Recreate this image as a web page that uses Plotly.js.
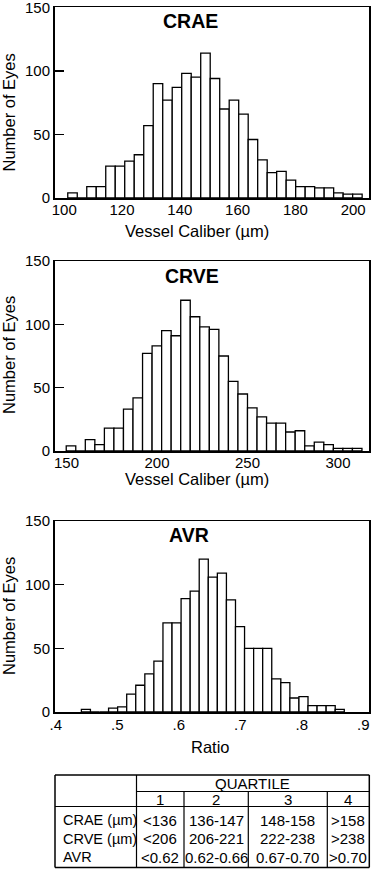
<!DOCTYPE html>
<html>
<head>
<meta charset="utf-8">
<script src="https://cdn.plot.ly/plotly-3.0.1.min.js"></script>
<style>
html,body{margin:0;padding:0;background:#fff;}
#chart{width:372px;height:870px;}
</style>
</head>
<body>
<div id="chart"></div>
<script>
// ---------- DATA ----------
const panelTitles = ['CRAE', 'CRVE', 'AVR'];
const xTitles = ['Vessel Caliber (\u00b5m)', 'Vessel Caliber (\u00b5m)', 'Ratio'];
const yTitle = 'Number of Eyes';

// CRAE histogram (vessel caliber, µm)
const craeBinStart = 101.23;
const craeBinWidth = 3.286;
const craeCounts = [4,0,9,9,25,25,29,34,57,90,77,87,98,95,114,94,70,77,66,46,30,20,21,14,9,9,8,8,4,3,3];
const craeTickVals = [100,120,140,160,180,200];
const craeTickText = ['100','120','140','160','180','200'];

// CRVE histogram (vessel caliber, µm)
const crveBinStart = 149.85;
const crveBinWidth = 5.271;
const crveCounts = [4,0,9,5,18,18,33,42,77,83,95,91,119,106,98,96,75,55,45,34,27,22,22,15,16,4,7,5,2,2,2];
const crveTickVals = [150,200,250,300];
const crveTickText = ['150','200','250','300'];

// AVR histogram (ratio)
const avrBinStart = 0.44159;
const avrBinWidth = 0.014742;
const avrCounts = [2,0,0,3,4,14,21,30,40,70,70,89,95,120,106,109,88,67,50,50,50,26,23,11,12,5,5,5,2];
const avrTickVals = [0.4,0.5,0.6,0.7,0.8,0.9];
const avrTickText = ['.4','.5','.6','.7','.8','.9'];

const yTickVals = [0,50,100,150];

// Quartile table
const tableHeader = 'QUARTILE';
const quartiles = ['1','2','3','4'];
const rowLabels = ['CRAE (\u00b5m)', 'CRVE (\u00b5m)', 'AVR'];
const craeQuartiles = ['<136','136-147','148-158','>158'];
const crveQuartiles = ['<206','206-221','222-238','>238'];
const avrQuartiles = ['<0.62','0.62-0.66','0.67-0.70','>0.70'];

// ---------- LAYOUT HELPERS ----------
const W = 372, H = 870;
const FONT = 'Liberation Sans, Arial, Helvetica, sans-serif';
const px = v => v / W;
const py = v => 1 - v / H;

function binCenters(start, width, counts) {
  return counts.map((_, i) => start + width * (i + 0.5));
}

const barStyle = {color: '#ffffff', line: {color: '#000000', width: 1.3}};

const traces = [
  {type: 'bar', x: binCenters(craeBinStart, craeBinWidth, craeCounts), y: craeCounts,
   width: craeBinWidth, marker: barStyle, xaxis: 'x', yaxis: 'y', hoverinfo: 'x+y'},
  {type: 'bar', x: binCenters(crveBinStart, crveBinWidth, crveCounts), y: crveCounts,
   width: crveBinWidth, marker: barStyle, xaxis: 'x2', yaxis: 'y2', hoverinfo: 'x+y'},
  {type: 'bar', x: binCenters(avrBinStart, avrBinWidth, avrCounts), y: avrCounts,
   width: avrBinWidth, marker: barStyle, xaxis: 'x3', yaxis: 'y3', hoverinfo: 'x+y'}
];

const xDomain = [px(54.5), px(369.3)];
const yDomains = [[py(198), py(7.3)], [py(451), py(261)], [py(712), py(521)]];

function xAxis(range, tv, tt, anchor, standoff) {
  return {domain: xDomain, range: range, anchor: anchor, tickvals: tv, ticktext: tt,
    ticks: '', showline: true, mirror: true, linecolor: '#000', linewidth: 1.5,
    showgrid: false, zeroline: false, fixedrange: true, automargin: false,
    ticklabelstandoff: standoff, ticklabeloverflow: 'allow',
    tickfont: {family: FONT, size: 15, color: '#000'}};
}
function yAxis(domain, anchor) {
  return {domain: domain, range: [0, 150], anchor: anchor, tickvals: yTickVals,
    ticks: 'inside', ticklen: 9, tickwidth: 1.3, tickcolor: '#000',
    showline: true, mirror: true, linecolor: '#000', linewidth: 1.5,
    showgrid: false, zeroline: false, fixedrange: true, automargin: false,
    ticklabeloverflow: 'allow',
    tickfont: {family: FONT, size: 15, color: '#000'}};
}

const annotations = [];
function txt(text, x, y, size, opts) {
  annotations.push(Object.assign({text: text, x: px(x), y: py(y), xref: 'paper', yref: 'paper',
    showarrow: false, xanchor: 'center', yanchor: 'middle',
    font: {family: FONT, size: size, color: '#000'}}, opts || {}));
}

// panel titles
txt('<b>' + panelTitles[0] + '</b>', 190, 21, 19.5);
txt('<b>' + panelTitles[1] + '</b>', 192, 275.5, 19.5);
txt('<b>' + panelTitles[2] + '</b>', 189, 535, 19.5);
// y-axis titles
txt(yTitle, 9, 112.5, 16.5, {textangle: -90});
txt(yTitle, 9, 355, 16.5, {textangle: -90});
txt(yTitle, 9, 616, 16.5, {textangle: -90});
// x-axis titles
txt(xTitles[0], 196.5, 230.5, 16.5);
txt(xTitles[1], 196.5, 479, 16.5);
txt(xTitles[2], 210, 747, 16.5);

// ---------- TABLE ----------
const tL = 55, tR = 369.3, tT = 775, tB = 867.5;
const colEdges = [136.5, 184, 248.3, 327.3, tR];
const hLine1 = 791.5, hLine2 = 806.5;
const shapes = [];
function line(x0, y0, x1, y1, w) {
  shapes.push({type: 'line', xref: 'paper', yref: 'paper', x0: px(x0), y0: py(y0), x1: px(x1), y1: py(y1),
    line: {color: '#000', width: w}});
}
line(tL, tT, tR, tT, 1.5);
line(tL, tB, tR, tB, 1.5);
line(tL, tT, tL, tB, 1.5);
line(tR, tT, tR, tB, 1.5);
line(colEdges[0], tT, colEdges[0], tB, 1.2);
line(colEdges[0], hLine1, tR, hLine1, 1.2);
line(tL, hLine2, tR, hLine2, 1.2);
for (let i = 1; i < 4; i++) line(colEdges[i], hLine1, colEdges[i], tB, 1.2);

txt(tableHeader, (colEdges[0] + tR) / 2, 783.5, 15);
quartiles.forEach((q, i) => txt(q, (colEdges[i] + colEdges[i + 1]) / 2, 799.5, 15));
const rowY = [820, 838.5, 857];
const tableRows = [craeQuartiles, crveQuartiles, avrQuartiles];
rowLabels.forEach((lab, r) => {
  txt(lab, 60.5, rowY[r], 14.5, {xanchor: 'left'});
  tableRows[r].forEach((v, c) => txt(v, (colEdges[c] + colEdges[c + 1]) / 2, rowY[r], 15));
});

const layout = {
  width: W, height: H,
  margin: {l: 0, r: 0, t: 0, b: 0, pad: 0},
  paper_bgcolor: '#fff', plot_bgcolor: '#fff',
  showlegend: false, bargap: 0,
  font: {family: FONT, color: '#000'},
  xaxis: xAxis([96.64, 205.57], craeTickVals, craeTickText, 'y', -3),
  yaxis: yAxis(yDomains[0], 'x'),
  xaxis2: xAxis([143.37, 317.3], crveTickVals, crveTickText, 'y2', -3),
  yaxis2: yAxis(yDomains[1], 'x2'),
  xaxis3: xAxis([0.3979, 0.9098], avrTickVals, avrTickText, 'y3', -2),
  yaxis3: yAxis(yDomains[2], 'x3'),
  annotations: annotations,
  shapes: shapes
};

Plotly.newPlot('chart', traces, layout, {displayModeBar: false, staticPlot: true});
</script>
</body>
</html>
